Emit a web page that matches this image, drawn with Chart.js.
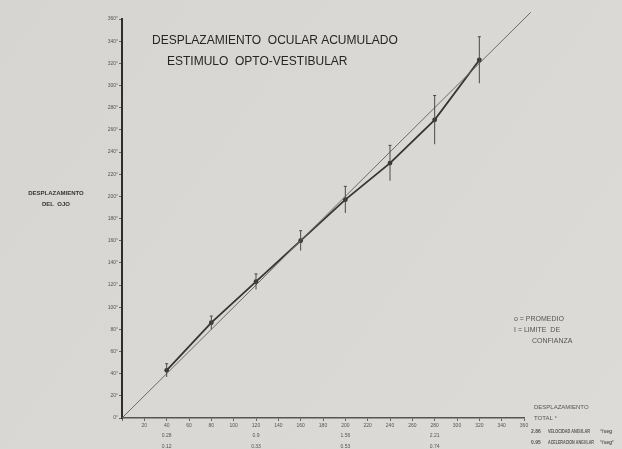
<!DOCTYPE html>
<html>
<head>
<meta charset="utf-8">
<script src="https://cdn.jsdelivr.net/npm/chart.js@4"></script>
<style>
  html, body { margin: 0; padding: 0; background: #d8d7d3; }
  #wrap { width: 622px; height: 449px; }
</style>
</head>
<body>
<div id="wrap"><canvas id="chart"></canvas></div>
<script>
// data
const stimulus = [40, 80, 120, 160, 200, 240, 280, 320];
const eyeMean = [43, 86, 123, 160, 197, 230, 269, 323];
const eyeErr = [6, 6, 7, 9, 12, 16, 22, 21];
const identityX = [0, 366];

const velocityAt = [40, 120, 200, 280];
const velocityLabels = ['0.28', '0.9', '1.56', '2.21'];
const accelLabels = ['0.12', '0.33', '0.53', '0.74'];

const ink = '#353535';
const soft = '#555555';

const bgPlugin = {
  id: 'bg',
  beforeDraw(chart) {
    const { ctx, width, height } = chart;
    ctx.save();
    const g = ctx.createLinearGradient(0, 0, width, height);
    g.addColorStop(0, '#d6d5d1');
    g.addColorStop(1, '#dcdbd8');
    ctx.fillStyle = g;
    ctx.fillRect(0, 0, width, height);
    ctx.restore();
  }
};

const errorBars = {
  id: 'errorBars',
  afterDatasetsDraw(chart) {
    const { ctx, scales: { x, y } } = chart;
    ctx.save();
    ctx.strokeStyle = '#4a4a4a';
    ctx.lineWidth = 1;
    stimulus.forEach((v, i) => {
      const px = x.getPixelForValue(v);
      const top = y.getPixelForValue(eyeMean[i] + eyeErr[i]);
      const bot = y.getPixelForValue(eyeMean[i] - eyeErr[i]);
      ctx.beginPath();
      ctx.moveTo(px, top);
      ctx.lineTo(px, bot);
      ctx.moveTo(px - 1.5, top);
      ctx.lineTo(px + 1.5, top);
      ctx.stroke();
    });
    ctx.restore();
  }
};

const texts = {
  id: 'texts',
  afterDraw(chart) {
    const { ctx, scales: { x } } = chart;
    ctx.save();
    ctx.fillStyle = '#262626';
    ctx.textBaseline = 'middle';

    ctx.font = '12px "Liberation Sans", Arial, sans-serif';
    ctx.fillText('DESPLAZAMIENTO  OCULAR ACUMULADO', 152, 41, 256);
    ctx.fillText('ESTIMULO  OPTO-VESTIBULAR', 167, 62, 205);

    ctx.fillStyle = ink;
    ctx.font = 'bold 6px "Liberation Sans", Arial, sans-serif';
    ctx.textAlign = 'center';
    ctx.fillText('DESPLAZAMIENTO', 56, 193, 78);
    ctx.fillText('DEL  OJO', 56, 204);

    ctx.textAlign = 'left';
    ctx.fillStyle = soft;
    ctx.font = '7px "Liberation Sans", Arial, sans-serif';
    ctx.fillText('o = PROMEDIO', 514, 319);
    ctx.fillText('I = LIMITE  DE', 514, 330);
    ctx.fillText('CONFIANZA', 532, 341);

    ctx.font = '6px "Liberation Sans", Arial, sans-serif';
    ctx.fillText('DESPLAZAMIENTO', 534, 407);
    ctx.fillText('TOTAL °', 534, 418);

    ctx.font = 'bold 5px "Liberation Sans", Arial, sans-serif';
    ctx.fillText('2.86', 531, 432);
    ctx.fillText('VELOCIDAD ANGULAR', 548, 432, 42);
    ctx.fillText('°/seg', 600, 432);
    ctx.fillText('0.95', 531, 443);
    ctx.fillText('ACELERACION ANGULAR', 548, 443, 46);
    ctx.fillText('°/seg²', 600, 443);

    ctx.textAlign = 'center';
    ctx.font = '5px "Liberation Sans", Arial, sans-serif';
    velocityAt.forEach((v, i) => {
      const px = x.getPixelForValue(v);
      ctx.fillText(velocityLabels[i], px, 436);
      ctx.fillText(accelLabels[i], px, 447);
    });
    ctx.restore();
  }
};

new Chart(document.getElementById('chart'), {
  type: 'scatter',
  data: {
    datasets: [
      {
        label: 'identidad',
        data: identityX.map(v => ({ x: v, y: v })),
        showLine: true,
        borderColor: '#6b6b6b',
        borderWidth: 1,
        pointRadius: 0,
        clip: false
      },
      {
        label: 'promedio',
        data: stimulus.map((v, i) => ({ x: v, y: eyeMean[i] })),
        showLine: true,
        borderColor: ink,
        borderWidth: 1.8,
        pointRadius: 1.5,
        pointBackgroundColor: ink,
        pointBorderColor: ink
      }
    ]
  },
  options: {
    responsive: true,
    maintainAspectRatio: false,
    animation: false,
    layout: { padding: { left: 82, right: 98, top: 19, bottom: 0 } },
    plugins: {
      legend: { display: false },
      tooltip: { enabled: false }
    },
    scales: {
      x: {
        type: 'linear',
        min: 0,
        max: 360,
        afterFit: s => { s.height = 31; },
        grid: { display: true, drawOnChartArea: false, tickLength: 3, color: '#666' },
        border: { color: '#555', width: 1.5 },
        ticks: {
          stepSize: 20,
          padding: 2,
          color: soft,
          font: { size: 5, family: '"Liberation Sans", Arial, sans-serif' },
          maxRotation: 0,
          autoSkip: false,
          callback: v => (v === 0 ? '' : v)
        }
      },
      y: {
        type: 'linear',
        min: 0,
        max: 360,
        afterFit: s => { s.width = 40; },
        grid: { display: true, drawOnChartArea: false, tickLength: 3, color: '#666' },
        border: { color: '#2e2e2e', width: 2 },
        ticks: {
          stepSize: 20,
          padding: 1,
          color: soft,
          font: { size: 5, family: '"Liberation Sans", Arial, sans-serif' },
          autoSkip: false,
          callback: v => v + '°'
        }
      }
    }
  },
  plugins: [bgPlugin, errorBars, texts]
});
</script>
</body>
</html>
